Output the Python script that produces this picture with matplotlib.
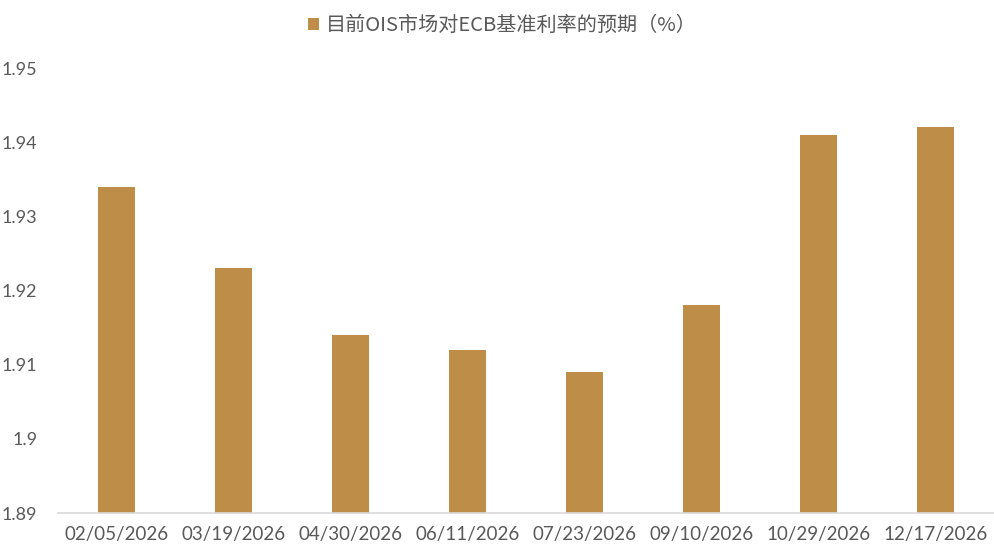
import matplotlib
matplotlib.use("Agg")
import matplotlib.pyplot as plt
from matplotlib.ticker import FixedLocator, FixedFormatter

categories = ["02/05/2026", "03/19/2026", "04/30/2026", "06/11/2026",
              "07/23/2026", "09/10/2026", "10/29/2026", "12/17/2026"]
values = [1.934, 1.923, 1.914, 1.912, 1.909, 1.918, 1.941, 1.942]
y_ticks = [1.89, 1.90, 1.91, 1.92, 1.93, 1.94, 1.95]
y_tick_labels = ["1.89", "1.9", "1.91", "1.92", "1.93", "1.94", "1.95"]
series_name = "目前OIS市场对ECB基准利率的预期（%）"

bar_color = "#BE8D48"
text_color = "#595959"

fig = plt.figure(figsize=(9.95, 5.58), dpi=100)
ax = fig.add_axes([0.0583, 0.0806, 0.9407, 0.7974])

x = list(range(len(categories)))
ax.bar(x, [v - 1.89 for v in values], bottom=1.89, width=0.316,
       color=bar_color, label=series_name, zorder=2)

ax.set_xlim(-0.5, len(categories) - 0.5)
ax.set_ylim(1.89, 1.95)
ax.yaxis.set_major_locator(FixedLocator(y_ticks))
ax.yaxis.set_major_formatter(FixedFormatter(y_tick_labels))
ax.set_xticks(x)
ax.set_xticklabels(categories)

for s in ["top", "right", "left"]:
    ax.spines[s].set_visible(False)
ax.spines["bottom"].set_color("#D9D9D9")
ax.spines["bottom"].set_linewidth(1.2)

ax.tick_params(axis="both", length=0, colors=text_color)
ax.tick_params(axis="y", pad=15)
ax.tick_params(axis="x", pad=9)
for lab in ax.get_xticklabels():
    lab.set_fontfamily("Lato")
    lab.set_fontsize(13.5)
for lab in ax.get_yticklabels():
    lab.set_fontfamily("Lato")
    lab.set_fontsize(13)

leg = fig.legend(loc="upper center", bbox_to_anchor=(0.505, 1.005), frameon=False,
                 handlelength=0.55, handleheight=0.55, handletextpad=0.35,
                 prop={"family": ["Noto Sans CJK SC", "DejaVu Sans"], "size": 14.5})
for t in leg.get_texts():
    t.set_color(text_color)

fig.savefig("out.png", dpi=100)
